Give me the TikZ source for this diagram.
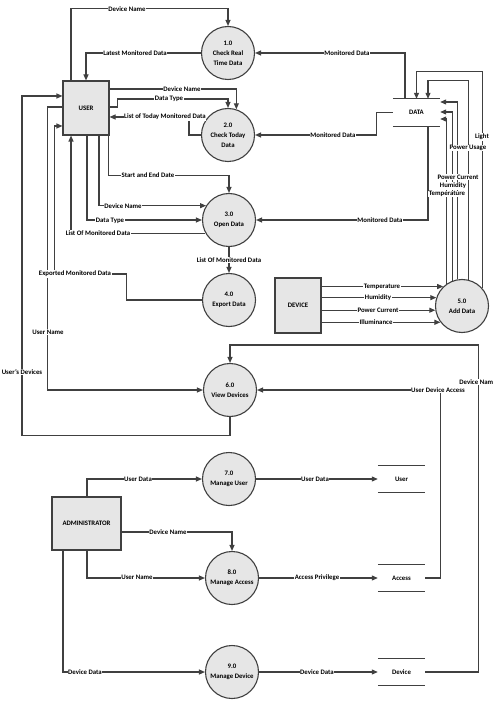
\documentclass[tikz,border=0pt]{standalone}
\usepackage{fontspec}
\setmainfont{Carlito}
\usetikzlibrary{arrows.meta,calc}
\definecolor{lc}{HTML}{404040}
\definecolor{pf}{HTML}{E6E6E6}
\begin{document}
\begin{tikzpicture}[x=1pt,y=-1pt,
  font=\fontsize{6.8}{10}\selectfont\bfseries,
  ln/.style={draw=lc, line width=1.1pt},
  flow/.style={ln, -{Triangle[length=6pt,width=5pt]}},
  proc/.style={circle, draw=lc, line width=1.1pt, fill=pf, minimum size=53pt, inner sep=0pt, align=center},
  ent/.style={rectangle, draw=lc, line width=1.1pt, fill=pf, inner sep=0pt},
  store/.style={minimum width=47pt, minimum height=27pt, inner sep=0pt},
  lbl/.style={fill=white, inner sep=0.6pt}]
\useasboundingbox (0,0) rectangle (492,708);
\clip (0,0) rectangle (492,708);

% entities
\node[ent, minimum width=46pt, minimum height=54pt] (user) at (86,108) {USER};
\node[ent, minimum width=46pt, minimum height=55pt] (device) at (298,305.5) {DEVICE};
\node[ent, minimum width=69pt, minimum height=53pt] (admin) at (86.5,523.5) {ADMINISTRATOR};

% processes
\node[proc] (p1) at (228,53) {1.0\\Check Real\\Time Data};
\node[proc] (p2) at (228,135) {2.0\\Check Today\\Data};
\node[proc] (p3) at (229,220) {3.0\\Open Data};
\node[proc] (p4) at (229,300) {4.0\\Export Data};
\node[proc] (p5) at (462,306) {5.0\\Add Data};
\node[proc] (p6) at (230,390) {6.0\\View Devices};
\node[proc] (p7) at (229,479) {7.0\\Manage User};
\node[proc] (p8) at (232,578) {8.0\\Manage Access};
\node[proc] (p9) at (232,672) {9.0\\Manage Device};

% stores
\node[store] (data) at (416.5,112.5) {DATA};
\node[store] (ustore) at (401.5,479) {User};
\node[store] (astore) at (401.5,578) {Access};
\node[store] (dstore) at (401.5,672) {Device};
\foreach \s in {data,ustore,astore,dstore}{
  \draw[ln] (\s.north west) -- (\s.north east);
  \draw[ln] (\s.south west) -- (\s.south east);
}

% USER flows
\draw[flow] ([xshift=-15pt]user.north) -- ++(0,-72) -| (p1.north);
\draw[flow] (p1.west) -| (user.north);
\draw[flow] ([xshift=-11.5pt]data.north) |- (p1.east);
\draw[flow] ([yshift=19pt]user.east) -| (p2.72);
\draw[flow] ([yshift=1pt]user.east) -- ++(8,0) -- ++(0,-8) -| (p2.north);
\draw[flow] (p2.west) -- ++(-12,0) |- ([yshift=-9pt]user.east);
\draw[flow] (data.west) -- ++(-16,0) |- (p2.east);
\draw[flow] ([xshift=-1pt]user.south east) -- ++(0,40) -| (p3.north);
\draw[flow] ([xshift=13pt]user.south) |- (p3.148);
\draw[flow] ([xshift=1pt]user.south) |- (p3.west);
\draw[flow] (p3.209) -| ([xshift=-15pt]user.south);
\draw[flow] ([xshift=11.5pt]data.south) |- (p3.east);
\draw[flow] (p3.south) -- (p4.north);
\draw[flow] (p4.west) -- ++(-75.5,0) -- ++(0,-26) -- ++(-72,0) |- ([yshift=-18pt]user.west);
\draw[flow] ([yshift=1pt]user.west) -- ++(-15,0) |- (p6.west);
\draw[flow] (p6.south) -- ++(0,18.5) -- ++(-208,0) |- ([yshift=12pt]user.west);
\draw[flow] (astore.east) -- ++(15,0) |- (p6.east);
\draw[flow] (dstore.east) -- ++(53,0) -- ++(0,-327) -| (p6.north);

% Add Data to DATA
\draw[flow] (p5.41) |- ([yshift=27pt]data.north) -- (data.north);
\draw[flow] (p5.77) |- ([xshift=11.5pt,yshift=18pt]data.north) -- ([xshift=11.5pt]data.north);
\draw[flow] (p5.99) |- ([yshift=10.5pt]data.east);
\draw[flow] (p5.110) |- ([yshift=0.5pt]data.east);
\draw[flow] (p5.124) |- ([yshift=-6.5pt]data.east);

% DEVICE to Add Data
\draw[flow] (device.east |- p5.134) -- (p5.134);
\draw[flow] (device.east |- p5.162) -- (p5.162);
\draw[flow] (device.east |- p5.189) -- (p5.189);
\draw[flow] (device.east |- p5.217) -- (p5.217);

% ADMIN flows
\draw[flow] ([xshift=0.5pt]admin.north) |- (p7.west);
\draw[flow] ([yshift=-8.5pt]admin.east) -| (p8.north);
\draw[flow] ([xshift=0.5pt]admin.south) |- (p8.west);
\draw[flow] ([xshift=-23.5pt]admin.south) |- (p9.west);
\draw[flow] (p7.east) -- (ustore.west);
\draw[flow] (p8.east) -- (astore.west);
\draw[flow] (p9.east) -- (dstore.west);

% labels
\node[lbl] (l1) at (127,9) {Device Name};
\node[lbl] (l2) at (135,53) {Latest Monitored Data};
\node[lbl] (l3) at (347,53) {Monitored Data};
\node[lbl] (l4) at (182,89) {Device Name};
\node[lbl] (l5) at (169,99) {Data Type};
\node[lbl] (l6) at (165,117) {List of Today Monitored Data};
\node[lbl] (l7) at (333,135) {Monitored Data};
\node[lbl] (l8) at (148,175) {Start and End Date};
\node[lbl] (l9) at (123,206) {Device Name};
\node[lbl] (l10) at (110,221) {Data Type};
\node[lbl] (l11) at (98,233) {List Of Monitored Data};
\node[lbl] (l12) at (380,220) {Monitored Data};
\node[lbl] (l13) at (229,260) {List Of Monitored Data};
\node[lbl] (l14) at (75,274) {Exported Monitored Data};
\node[lbl] (l15) at (48,332) {User Name};
\node[lbl] (l16) at (22,372) {User's Devices};
\node[lbl] (l17) at (438,390) {User Device Access};
\node[lbl] (l18) at (478,382) {Device Name};
\node[lbl] (l19) at (482,137) {Light};
\node[lbl] (l20) at (468,148) {Power Usage};
\node[lbl] (l21) at (458,177) {Power Current};
\node[lbl] (l22) at (453,186) {Humidity};
\node[lbl] (l23) at (447,194) {Temperature};
\node[lbl] (l24) at (382,287) {Temperature};
\node[lbl] (l25) at (378,298) {Humidity};
\node[lbl] (l26) at (378,310) {Power Current};
\node[lbl] (l27) at (376,322) {Illuminance};
\node[lbl] (l28) at (138,479) {User Data};
\node[lbl] (l29) at (168,532) {Device Name};
\node[lbl] (l30) at (137,577) {User Name};
\node[lbl] (l31) at (85,672) {Device Data};
\node[lbl] (l32) at (315,479) {User Data};
\node[lbl] (l33) at (317,578) {Access Privilege};
\node[lbl] (l34) at (317,672) {Device Data};
\end{tikzpicture}
\end{document}
